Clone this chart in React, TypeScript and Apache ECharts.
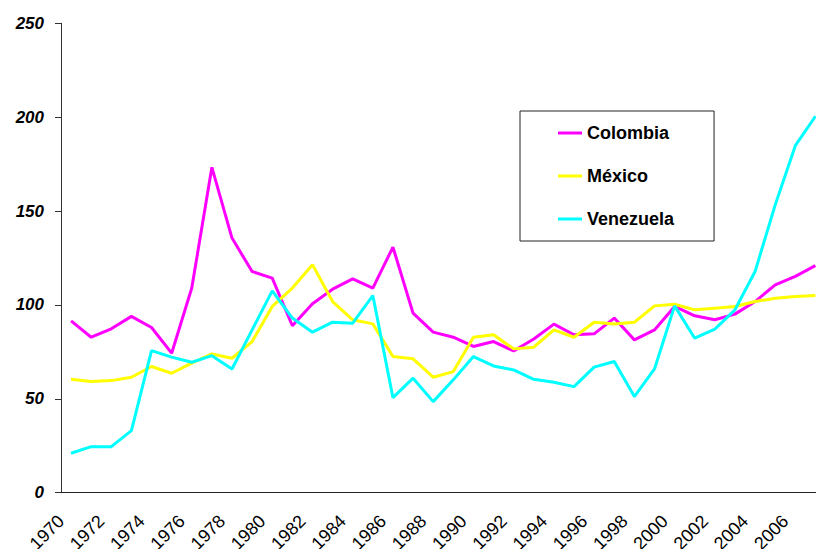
import React, { useEffect, useRef } from "react";
import * as echarts from "echarts";

const years = [
  "1970", "1971", "1972", "1973", "1974", "1975", "1976", "1977", "1978", "1979",
  "1980", "1981", "1982", "1983", "1984", "1985", "1986", "1987", "1988", "1989",
  "1990", "1991", "1992", "1993", "1994", "1995", "1996", "1997", "1998", "1999",
  "2000", "2001", "2002", "2003", "2004", "2005", "2006", "2007",
];

const colombia = [
  91.5, 82.8, 87.3, 93.9, 88.0, 74.3, 109.0, 173.3, 135.6, 117.8,
  114.3, 88.9, 100.6, 108.4, 113.9, 109.0, 130.8, 95.6, 85.5, 82.8,
  77.9, 80.5, 75.5, 81.9, 89.8, 84.1, 84.6, 93.0, 81.4, 86.7,
  99.2, 94.2, 92.1, 95.1, 101.8, 110.7, 115.2, 120.9,
];

const mexico = [
  60.4, 59.2, 59.7, 61.5, 67.2, 63.6, 69.0, 73.9, 71.6, 80.5,
  99.2, 109.0, 121.4, 101.8, 92.1, 89.9, 72.5, 71.3, 61.5, 64.5,
  82.8, 84.1, 76.6, 77.5, 86.7, 82.8, 90.8, 89.9, 90.8, 99.5,
  100.4, 97.4, 98.3, 99.2, 101.8, 103.6, 104.5, 105.0,
];

const venezuela = [
  21.0, 24.5, 24.5, 33.1, 75.7, 72.2, 69.5, 73.0, 65.9, 86.7,
  107.5, 93.0, 85.5, 90.8, 90.3, 105.0, 50.6, 61.0, 48.5, 60.1,
  72.5, 67.5, 65.4, 60.4, 58.8, 56.5, 66.9, 69.9, 51.2, 65.9,
  99.5, 82.3, 87.1, 97.4, 117.8, 153.3, 184.8, 200.5,
];

const FONT = "'Liberation Sans', Arial, sans-serif";

export default function App() {
  const ref = useRef<HTMLDivElement>(null);

  useEffect(() => {
    if (!ref.current) return;
    const chart = echarts.init(ref.current, undefined, { renderer: "svg" });
    const line = (name: string, data: number[], color: string) => ({
      name,
      type: "line",
      data,
      symbol: "none",
      lineStyle: { color, width: 3 },
      itemStyle: { color },
    });
    chart.setOption({
      animation: false,
      backgroundColor: "#ffffff",
      grid: {
        left: 61,
        right: 4.5,
        top: 23.3,
        bottom: 56.3,
        containLabel: false,
        outerBoundsMode: "none",
      },
      legend: {
        orient: "vertical",
        left: 520,
        top: 111,
        icon: "rect",
        itemWidth: 24,
        itemHeight: 3,
        itemGap: 23,
        padding: [12, 40, 12, 38],
        borderColor: "#222",
        borderWidth: 1,
        backgroundColor: "#ffffff",
        textStyle: {
          fontFamily: FONT,
          fontSize: 18,
          fontWeight: "bold",
          color: "#000",
          lineHeight: 20,
        },
        data: ["Colombia", "México", "Venezuela"],
      },
      xAxis: {
        type: "category",
        data: years,
        boundaryGap: true,
        axisLine: { lineStyle: { color: "#222", width: 1 } },
        axisTick: { interval: 0, length: 6, lineStyle: { color: "#222" } },
        axisLabel: {
          interval: 1,
          rotate: 45,
          margin: 15.5,
          padding: [0, 14, 0, 0],
          fontFamily: FONT,
          fontSize: 18,
          color: "#000",
        },
        splitLine: { show: false },
      },
      yAxis: {
        type: "value",
        min: 0,
        max: 250,
        interval: 50,
        axisLine: { show: true, lineStyle: { color: "#333", width: 1 } },
        axisTick: { show: true, length: 6, lineStyle: { color: "#333" } },
        axisLabel: {
          margin: 17,
          fontFamily: FONT,
          fontSize: 17,
          fontWeight: "bold",
          fontStyle: "italic",
          color: "#000",
        },
        splitLine: { show: false },
      },
      series: [
        line("Colombia", colombia, "#ff00ff"),
        line("México", mexico, "#ffff00"),
        line("Venezuela", venezuela, "#00ffff"),
      ],
    });
    return () => chart.dispose();
  }, []);

  return (
    <div
      style={{
        position: "absolute",
        left: 0,
        top: 0,
        width: 816,
        height: 549,
        overflow: "hidden",
        background: "#fff",
      }}
    >
      <div ref={ref} style={{ width: 830, height: 549 }} />
    </div>
  );
}
